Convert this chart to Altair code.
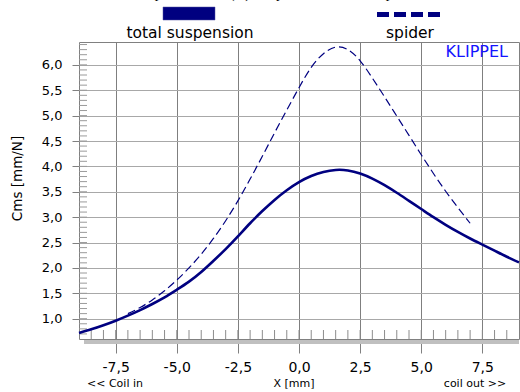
import altair as alt
import pandas as pd

# Compliance Cms versus voice-coil displacement X
x_total = [-9.0, -8.5, -8.0, -7.5, -7.0, -6.5, -6.0, -5.5, -5.0, -4.5, -4.0, -3.5,
           -3.0, -2.5, -2.0, -1.5, -1.0, -0.5, 0.0, 0.5, 1.0, 1.5, 2.0, 2.5,
           3.0, 3.5, 4.0, 4.5, 5.0, 5.5, 6.0, 6.5, 7.0, 7.5, 8.0, 8.5, 9.0]
cms_total = [0.72, 0.79, 0.87, 0.96, 1.06, 1.17, 1.29, 1.42, 1.57, 1.73, 1.92, 2.14,
             2.37, 2.62, 2.88, 3.12, 3.34, 3.53, 3.69, 3.81, 3.89, 3.93, 3.92, 3.86,
             3.76, 3.63, 3.48, 3.32, 3.16, 3.00, 2.85, 2.71, 2.58, 2.46, 2.34, 2.22, 2.11]

x_spider = [-7.0, -6.5, -6.0, -5.5, -5.0, -4.5, -4.0, -3.5, -3.0, -2.5, -2.0, -1.5,
            -1.0, -0.5, 0.0, 0.5, 1.0, 1.5, 2.0, 2.5, 3.0, 3.5, 4.0, 4.5,
            5.0, 5.5, 6.0, 6.5, 7.0]
cms_spider = [1.10, 1.22, 1.37, 1.55, 1.76, 2.00, 2.27, 2.58, 2.93, 3.32, 3.75, 4.20,
              4.66, 5.11, 5.55, 5.95, 6.22, 6.35, 6.30, 6.08, 5.74, 5.37, 4.99, 4.61,
              4.23, 3.86, 3.51, 3.19, 2.88]

x_major = [-7.5, -5.0, -2.5, 0.0, 2.5, 5.0, 7.5]
y_major = [1.0, 1.5, 2.0, 2.5, 3.0, 3.5, 4.0, 4.5, 5.0, 5.5, 6.0]
x_minor = [v / 2 for v in range(-17, 18)]
y_minor = [v / 10 for v in range(7, 65)]

FONT = "DejaVu Sans"
NAVY = "#000080"
W, H = 440, 297

xscale = alt.Scale(domain=[-9, 9], nice=False, zero=False)
yscale = alt.Scale(domain=[0.6, 6.45], nice=False, zero=False)
comma = "replace(replace(format(datum.value, '.1f'), '.', ','), '\u2212', '-')"

x_axis = alt.Axis(title="", values=x_major, labelExpr=comma, offset=4, domain=False,
                  grid=True, tickSize=10, tickColor="#808080", labelPadding=7,
                  gridColor="#7f7f7f", labelFont=FONT, labelFontSize=14,
                  labelColor="black")
y_axis = alt.Axis(title="Cms [mm/N]", values=y_major, labelExpr=comma, domain=False,
                  grid=True, tickSize=7, tickColor="#808080", labelPadding=10,
                  gridColor="#a8a8a8", labelFont=FONT, labelFontSize=13,
                  labelColor="black", titleFont=FONT, titleFontSize=13.5,
                  titleFontWeight="normal", titleColor="black",
                  titleX=-62, titleY=136, titleBaseline="middle", titleAlign="center")

total_df = pd.DataFrame({"x": x_total, "cms": cms_total})
spider_df = pd.DataFrame({"x": x_spider, "cms": cms_spider})
one = alt.Data(values=[{}])

# invisible layer that carries the axes and the grid
axes = alt.Chart(total_df).mark_point(opacity=0).encode(
    x=alt.X("x:Q", scale=xscale, axis=x_axis),
    y=alt.Y("cms:Q", scale=yscale, axis=y_axis),
)

total = alt.Chart(total_df).mark_line(
    color=NAVY, strokeWidth=2.6, interpolate="natural"
).encode(
    x=alt.X("x:Q", scale=xscale, axis=x_axis),
    y=alt.Y("cms:Q", scale=yscale, axis=y_axis),
)

spider = alt.Chart(spider_df).mark_line(
    color=NAVY, strokeWidth=1.2, strokeDash=[8, 4], interpolate="natural"
).encode(
    x=alt.X("x:Q", scale=xscale, axis=x_axis),
    y=alt.Y("cms:Q", scale=yscale, axis=y_axis),
)

# small inner ticks along the left and bottom edges
y_ticks = alt.Chart(pd.DataFrame({"v": y_minor})).mark_rule(
    color="#9a9a9a", strokeWidth=1
).encode(y=alt.Y("v:Q", scale=yscale, axis=y_axis), x=alt.value(0), x2=alt.value(8))

x_ticks = alt.Chart(pd.DataFrame({"v": x_minor})).mark_rule(
    color="#8c8c8c", strokeWidth=1
).encode(x=alt.X("v:Q", scale=xscale, axis=x_axis), y=alt.value(H - 9), y2=alt.value(H))

# shadow band under the plot frame
band = alt.Chart(one).mark_rect(color="#c0c0c0").encode(
    x=alt.value(5), x2=alt.value(W), y=alt.value(H + 1), y2=alt.value(H + 5)
)

# legend swatches
swatch_total = alt.Chart(one).mark_rect(color=NAVY, stroke="#5050a0", strokeWidth=0.5).encode(
    x=alt.value(84), x2=alt.value(136), y=alt.value(-35), y2=alt.value(-22)
)
swatch_spider = alt.Chart(one).mark_rule(color=NAVY, strokeWidth=5, strokeDash=[12, 5]).encode(
    x=alt.value(298), x2=alt.value(363), y=alt.value(-27.5)
)


def label(text, x, y, size, align="center", color="black", font=FONT):
    return alt.Chart(one).mark_text(
        text=text, font=font, fontSize=size, align=align, baseline="alphabetic", color=color
    ).encode(x=alt.value(x), y=alt.value(y))


texts = [
    label("Compliance Cms(X) of spider and total suspension", 200, -44, 15, font="Liberation Serif"),
    label("total suspension", 111, -4.5, 15.5),
    label("spider", 331, -4.5, 15.5),
    label("KLIPPEL", 429, 14.5, 16, align="right", color="#1414ff"),
    label("<< Coil in", 8, 345, 11, align="left"),
    label("X [mm]", 215, 345, 11),
    label("coil out >>", 396, 345, 11),
]

chart = alt.layer(
    axes, band, y_ticks, x_ticks, spider, total, swatch_total, swatch_spider, *texts
).properties(
    width=W, height=H,
    autosize=alt.AutoSizeParams(type="none"),
    padding={"left": 79, "top": 42, "right": 1, "bottom": 53},
    background="white",
).configure_view(
    stroke="#808080", strokeWidth=1
).configure_axis(
    gridWidth=1, tickWidth=1
)

chart.save("out.html", embed_options={"renderer": "svg", "actions": False})
